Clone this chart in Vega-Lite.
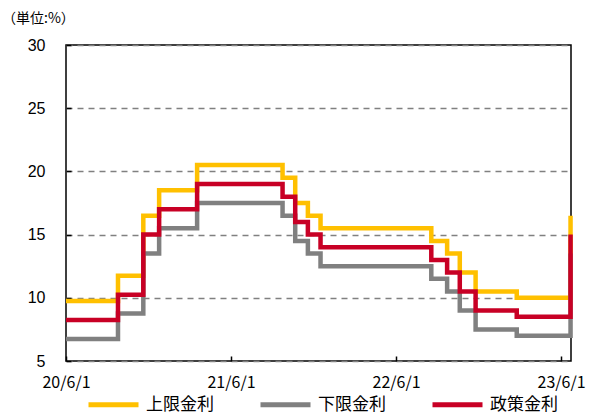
{
  "$schema": "https://vega.github.io/schema/vega-lite/v6.json",
  "width": 505,
  "height": 316,
  "autosize": {"type": "none"},
  "padding": {"left": 66, "top": 45, "right": 21, "bottom": 54},
  "background": "white",
  "title": {
    "text": "（単位:%）",
    "anchor": "start",
    "frame": "group",
    "dx": -64,
    "offset": 11,
    "font": "Noto Sans CJK JP",
    "fontSize": 14,
    "fontWeight": "normal",
    "color": "black"
  },
  "config": {
    "view": {"stroke": "black", "strokeWidth": 1.5},
    "axis": {"domain": false}
  },
  "data": {
    "values": [
      {"date": "2020-06-01", "upper": 9.75, "lower": 6.75, "policy": 8.25},
      {"date": "2020-09-24", "upper": 11.75, "lower": 8.75, "policy": 10.25},
      {"date": "2020-11-19", "upper": 16.5, "lower": 13.5, "policy": 15},
      {"date": "2020-12-24", "upper": 18.5, "lower": 15.5, "policy": 17},
      {"date": "2021-03-18", "upper": 20.5, "lower": 17.5, "policy": 19},
      {"date": "2021-09-23", "upper": 19.5, "lower": 16.5, "policy": 18},
      {"date": "2021-10-21", "upper": 17.5, "lower": 14.5, "policy": 16},
      {"date": "2021-11-18", "upper": 16.5, "lower": 13.5, "policy": 15},
      {"date": "2021-12-16", "upper": 15.5, "lower": 12.5, "policy": 14},
      {"date": "2022-08-18", "upper": 14.5, "lower": 11.5, "policy": 13},
      {"date": "2022-09-22", "upper": 13.5, "lower": 10.5, "policy": 12},
      {"date": "2022-10-20", "upper": 12, "lower": 9, "policy": 10.5},
      {"date": "2022-11-24", "upper": 10.5, "lower": 7.5, "policy": 9},
      {"date": "2023-02-23", "upper": 10, "lower": 7, "policy": 8.5},
      {"date": "2023-06-22", "upper": 16.5, "lower": 13.5, "policy": 15}
    ]
  },
  "encoding": {
    "x": {
      "field": "date",
      "type": "temporal",
      "scale": {
        "type": "utc",
        "domain": [
          {"year": 2020, "month": 6, "date": 1, "utc": true},
          {"year": 2023, "month": 6, "date": 23, "utc": true}
        ]
      },
      "axis": {
        "title": null,
        "values": [
          {"year": 2020, "month": 6, "date": 1, "utc": true},
          {"year": 2021, "month": 6, "date": 1, "utc": true},
          {"year": 2022, "month": 6, "date": 1, "utc": true},
          {"year": 2023, "month": 6, "date": 1, "utc": true}
        ],
        "format": "%y/%-m/%-d",
        "grid": false,
        "ticks": true,
        "tickSize": -5,
        "tickColor": "black",
        "tickWidth": 1.5,
        "labelPadding": 18,
        "labelFont": "Noto Sans CJK JP",
        "labelFontSize": 16,
        "labelColor": "black",
        "labelFlush": false,
        "labelOverlap": false
      }
    }
  },
  "layer": [
    {
      "mark": {"type": "line", "interpolate": "step-after", "strokeWidth": 4.5},
      "encoding": {
        "y": {
          "field": "upper",
          "type": "quantitative",
          "scale": {"domain": [5, 30], "nice": false, "zero": false},
          "axis": {
            "title": null,
            "values": [5, 10, 15, 20, 25, 30],
            "grid": true,
            "gridDash": [6, 5],
            "gridColor": "#808080",
            "gridWidth": 1.3,
            "ticks": true,
            "tickSize": -5,
            "tickColor": "black",
            "tickWidth": 1.5,
            "labelPadding": 26,
            "labelFont": "Liberation Sans",
            "labelFontSize": 16,
            "labelColor": "black"
          }
        },
        "color": {
          "datum": "上限金利",
          "type": "nominal",
          "scale": {
            "domain": ["上限金利", "下限金利", "政策金利"],
            "range": ["#FFC000", "#808080", "#C80025"]
          },
          "legend": {
            "title": null,
            "orient": "none",
            "direction": "horizontal",
            "legendX": 20,
            "legendY": 332,
            "symbolType": "stroke",
            "symbolSize": 2500,
            "symbolStrokeWidth": 5,
            "labelFont": "Noto Sans CJK JP",
            "labelFontSize": 17,
            "labelColor": "black",
            "labelOffset": 5,
            "columnPadding": 36,
            "labelLimit": 200
          }
        }
      }
    },
    {
      "mark": {"type": "line", "interpolate": "step-after", "strokeWidth": 4.5},
      "encoding": {
        "y": {"field": "lower", "type": "quantitative"},
        "color": {"datum": "下限金利", "type": "nominal"}
      }
    },
    {
      "mark": {"type": "line", "interpolate": "step-after", "strokeWidth": 4.5},
      "encoding": {
        "y": {"field": "policy", "type": "quantitative"},
        "color": {"datum": "政策金利", "type": "nominal"}
      }
    }
  ]
}
